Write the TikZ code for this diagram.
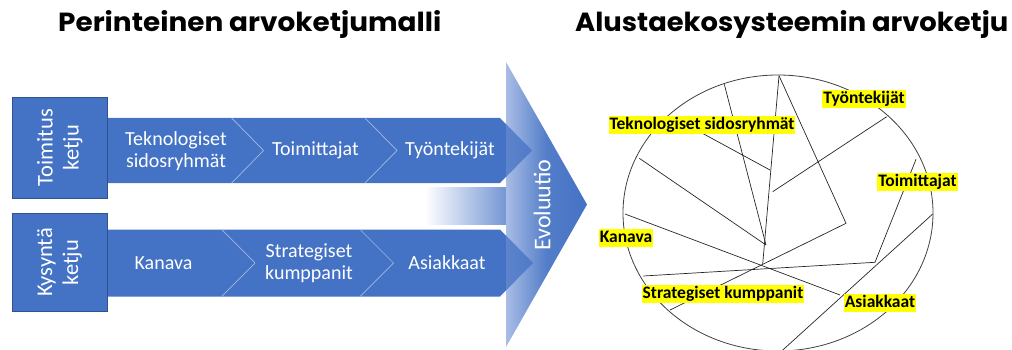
\documentclass[tikz,border=0pt]{standalone}
\usepackage{fontspec}
\setmainfont{Carlito}
\newfontfamily\titlefont{Poppins}
\definecolor{obl}{HTML}{4472C4}
\definecolor{obd}{HTML}{2F528F}
\definecolor{sepc}{HTML}{A4B9E3}
\definecolor{hly}{HTML}{FFFF00}
\definecolor{arl}{HTML}{A9BDE6}
\begin{document}
\begin{tikzpicture}[x=1pt,y=-1pt,
  band/.style={fill=obl},
  sepline/.style={draw=sepc, line width=0.7pt},
  ctext/.style={text=white, font=\fontsize{20}{22}\selectfont, align=center, inner sep=0pt},
  chainbox/.style={fill=obl, draw=obd, line width=0.6pt, rotate=90, text=white, align=center,
     font=\fontsize{22.5}{26}\selectfont, inner sep=0pt},
  hl/.style={fill=hly, font=\bfseries\fontsize{17.5}{20}\selectfont, inner xsep=1pt, inner ysep=1pt,
     text height=12.5pt, text depth=3.5pt},
  eco/.style={draw=black!85, line width=0.7pt},
  title/.style={anchor=base west, inner sep=0pt}]
\useasboundingbox (0,0) rectangle (1012,350);

% titles
\node[title] (t1) at (58,32) {\resizebox{383pt}{21pt}{\titlefont\bfseries Perinteinen arvoketjumalli}};
\node[title] (t2) at (575,32) {\resizebox{433pt}{21pt}{\titlefont\bfseries Alustaekosysteemin arvoketju}};

% bands
\fill[band] (100,118) -- (500,118) -- (532,150.5) -- (500,183) -- (100,183) -- cycle;
\fill[band] (100,229.5) -- (500,229.5) -- (533,263) -- (500,296.5) -- (100,296.5) -- cycle;
\draw[sepline] (231.7,118) -- (263.5,150.5) -- (231.7,183);
\draw[sepline] (365,118) -- (397,150.5) -- (365,183);
\draw[sepline] (221.7,229.5) -- (255,263) -- (221.7,296.5);
\draw[sepline] (360,229.5) -- (393.5,263) -- (360,296.5);

\node[ctext] (c1) at (176,151) {Teknologiset\\sidosryhmät};
\node[ctext] (c2) at (315.5,150.5) {Toimittajat};
\node[ctext] (c3) at (450,150.5) {Työntekijät};
\node[ctext] (d1) at (163.5,263) {Kanava};
\node[ctext] (d2) at (309,263) {Strategiset\\kumppanit};
\node[ctext] (d3) at (447,263) {Asiakkaat};

% fade bar
\shade[left color=white, right color=obl!75] (425,187) rectangle (507,224);

% big arrow
\shade[left color=arl, right color=obl, middle color=obl!92] (506,62) -- (587,204.5) -- (506,347) -- cycle;
\begin{scope}
  \clip (506,62) -- (587,204.5) -- (506,347) -- cycle;
  \fill[obl, opacity=0.75] (500,118) -- (532,150.5) -- (500,183) -- cycle;
  \fill[obl, opacity=0.75] (500,229.5) -- (533,263) -- (500,296.5) -- cycle;
\end{scope}
\node[rotate=90, text=white, font=\fontsize{24}{28}\selectfont, inner sep=0pt] (evo) at (542,205) {Evoluutio};

% chain boxes
\node[chainbox, minimum width=101pt, minimum height=95pt] (b1) at (59.8,147.8) {Toimitus\\ketju};
\node[chainbox, minimum width=98.4pt, minimum height=95pt] (b2) at (59.5,262.5) {Kysyntä\\ketju};

% ecosystem
\draw[draw=black!75, line width=0.8pt] (778,213) ellipse [x radius=155, y radius=138];
\coordinate (p1) at (724.3,84.3);
\coordinate (p2) at (779,75.7);
\coordinate (q1) at (766,245);
\coordinate (q2) at (762.7,264);
\coordinate (r1) at (846,223.3);
\coordinate (r2) at (670,310);
\coordinate (s1) at (886.7,116.7);
\coordinate (s2) at (772.7,191.7);
\coordinate (u1) at (689,126);
\coordinate (u2) at (770,170);
\coordinate (v1) at (639.3,158.3);
\coordinate (w1) at (625,214);
\coordinate (w2) at (840,295);
\coordinate (x1) at (643.3,276);
\coordinate (x2) at (875,262.3);
\coordinate (x3) at (916,159.3);
\coordinate (y1) at (932.7,214);
\coordinate (y2) at (781.7,351);
\draw[eco] (p1) -- (q1);
\draw[eco] (p2) -- (q2);
\draw[eco] (p2) -- (r1) -- (r2);
\draw[eco] (s1) -- (s2);
\draw[eco] (u1) -- (u2);
\draw[eco] (v1) -- (q1);
\draw[eco] (w1) -- (w2);
\draw[eco] (x1) -- (x2) -- (x3);
\draw[eco] (y1) -- (y2);

% labels
\node[hl] (l1) at (864,99) {Työntekijät};
\node[hl] (l2) at (702,125) {Teknologiset sidosryhmät};
\node[hl] (l3) at (917.5,182) {Toimittajat};
\node[hl] (l4) at (626,237.5) {Kanava};
\node[hl] (l5) at (723,294) {Strategiset kumppanit};
\node[hl] (l6) at (880,302.5) {Asiakkaat};
\end{tikzpicture}
\end{document}
